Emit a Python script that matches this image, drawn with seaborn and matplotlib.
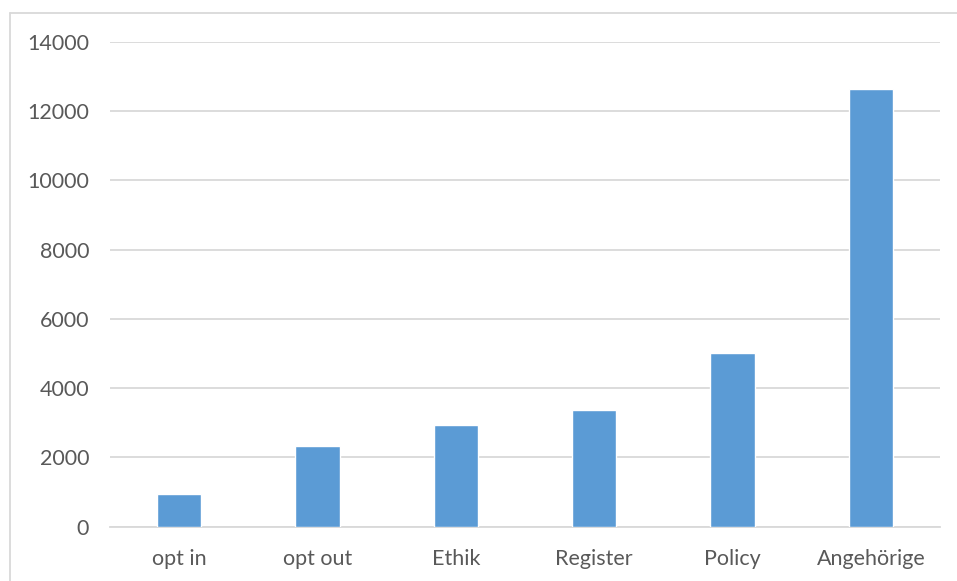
import matplotlib
matplotlib.use("Agg")
import matplotlib.pyplot as plt
import seaborn as sns
import pandas as pd
from matplotlib.lines import Line2D

categories = ["opt in", "opt out", "Ethik", "Register", "Policy", "Angehörige"]
values = [945, 2340, 2945, 3360, 5020, 12630]
y_ticks = [0, 2000, 4000, 6000, 8000, 10000, 12000, 14000]

df = pd.DataFrame({"kategorie": categories, "anzahl": values})

sns.set_theme(style="white")
plt.rcParams["font.family"] = ["Lato", "DejaVu Sans"]

W, H = 957, 581
fig = plt.figure(figsize=(W / 100, H / 100), dpi=100)
ax = fig.add_axes([110 / W, 1 - 526.7 / H, 830 / W, 485 / H])

sns.barplot(x="kategorie", y="anzahl", data=df, color="#5b9bd5",
            width=0.32, saturation=1, ax=ax, zorder=3)

ax.set_ylim(0, 14000)
ax.set_yticks(y_ticks)
ax.set_yticklabels([str(t) for t in y_ticks])
ax.set_xlim(-0.5, len(categories) - 0.5)
ax.yaxis.grid(True, color="#d9d9d9", linewidth=1.3, zorder=0)
ax.set_axisbelow(True)
for side in ["left", "right", "top"]:
    ax.spines[side].set_visible(False)
ax.spines["bottom"].set_color("#d9d9d9")
ax.spines["bottom"].set_linewidth(1.3)
ax.set_xlabel("")
ax.set_ylabel("")
ax.tick_params(axis="both", length=0, labelsize=15.5, colors="#595959")
ax.tick_params(axis="y", pad=15)
ax.tick_params(axis="x", pad=16)

# outer chart frame (only left and top edge visible in the crop)
fig.add_artist(Line2D([9.5 / W, 9.5 / W], [0, 1 - 12.5 / H], transform=fig.transFigure,
                      color="#d9d9d9", linewidth=1.3))
fig.add_artist(Line2D([9.5 / W, 1], [1 - 12.5 / H, 1 - 12.5 / H], transform=fig.transFigure,
                      color="#d9d9d9", linewidth=1.3))

fig.savefig("out.png", dpi=100, facecolor="white")
